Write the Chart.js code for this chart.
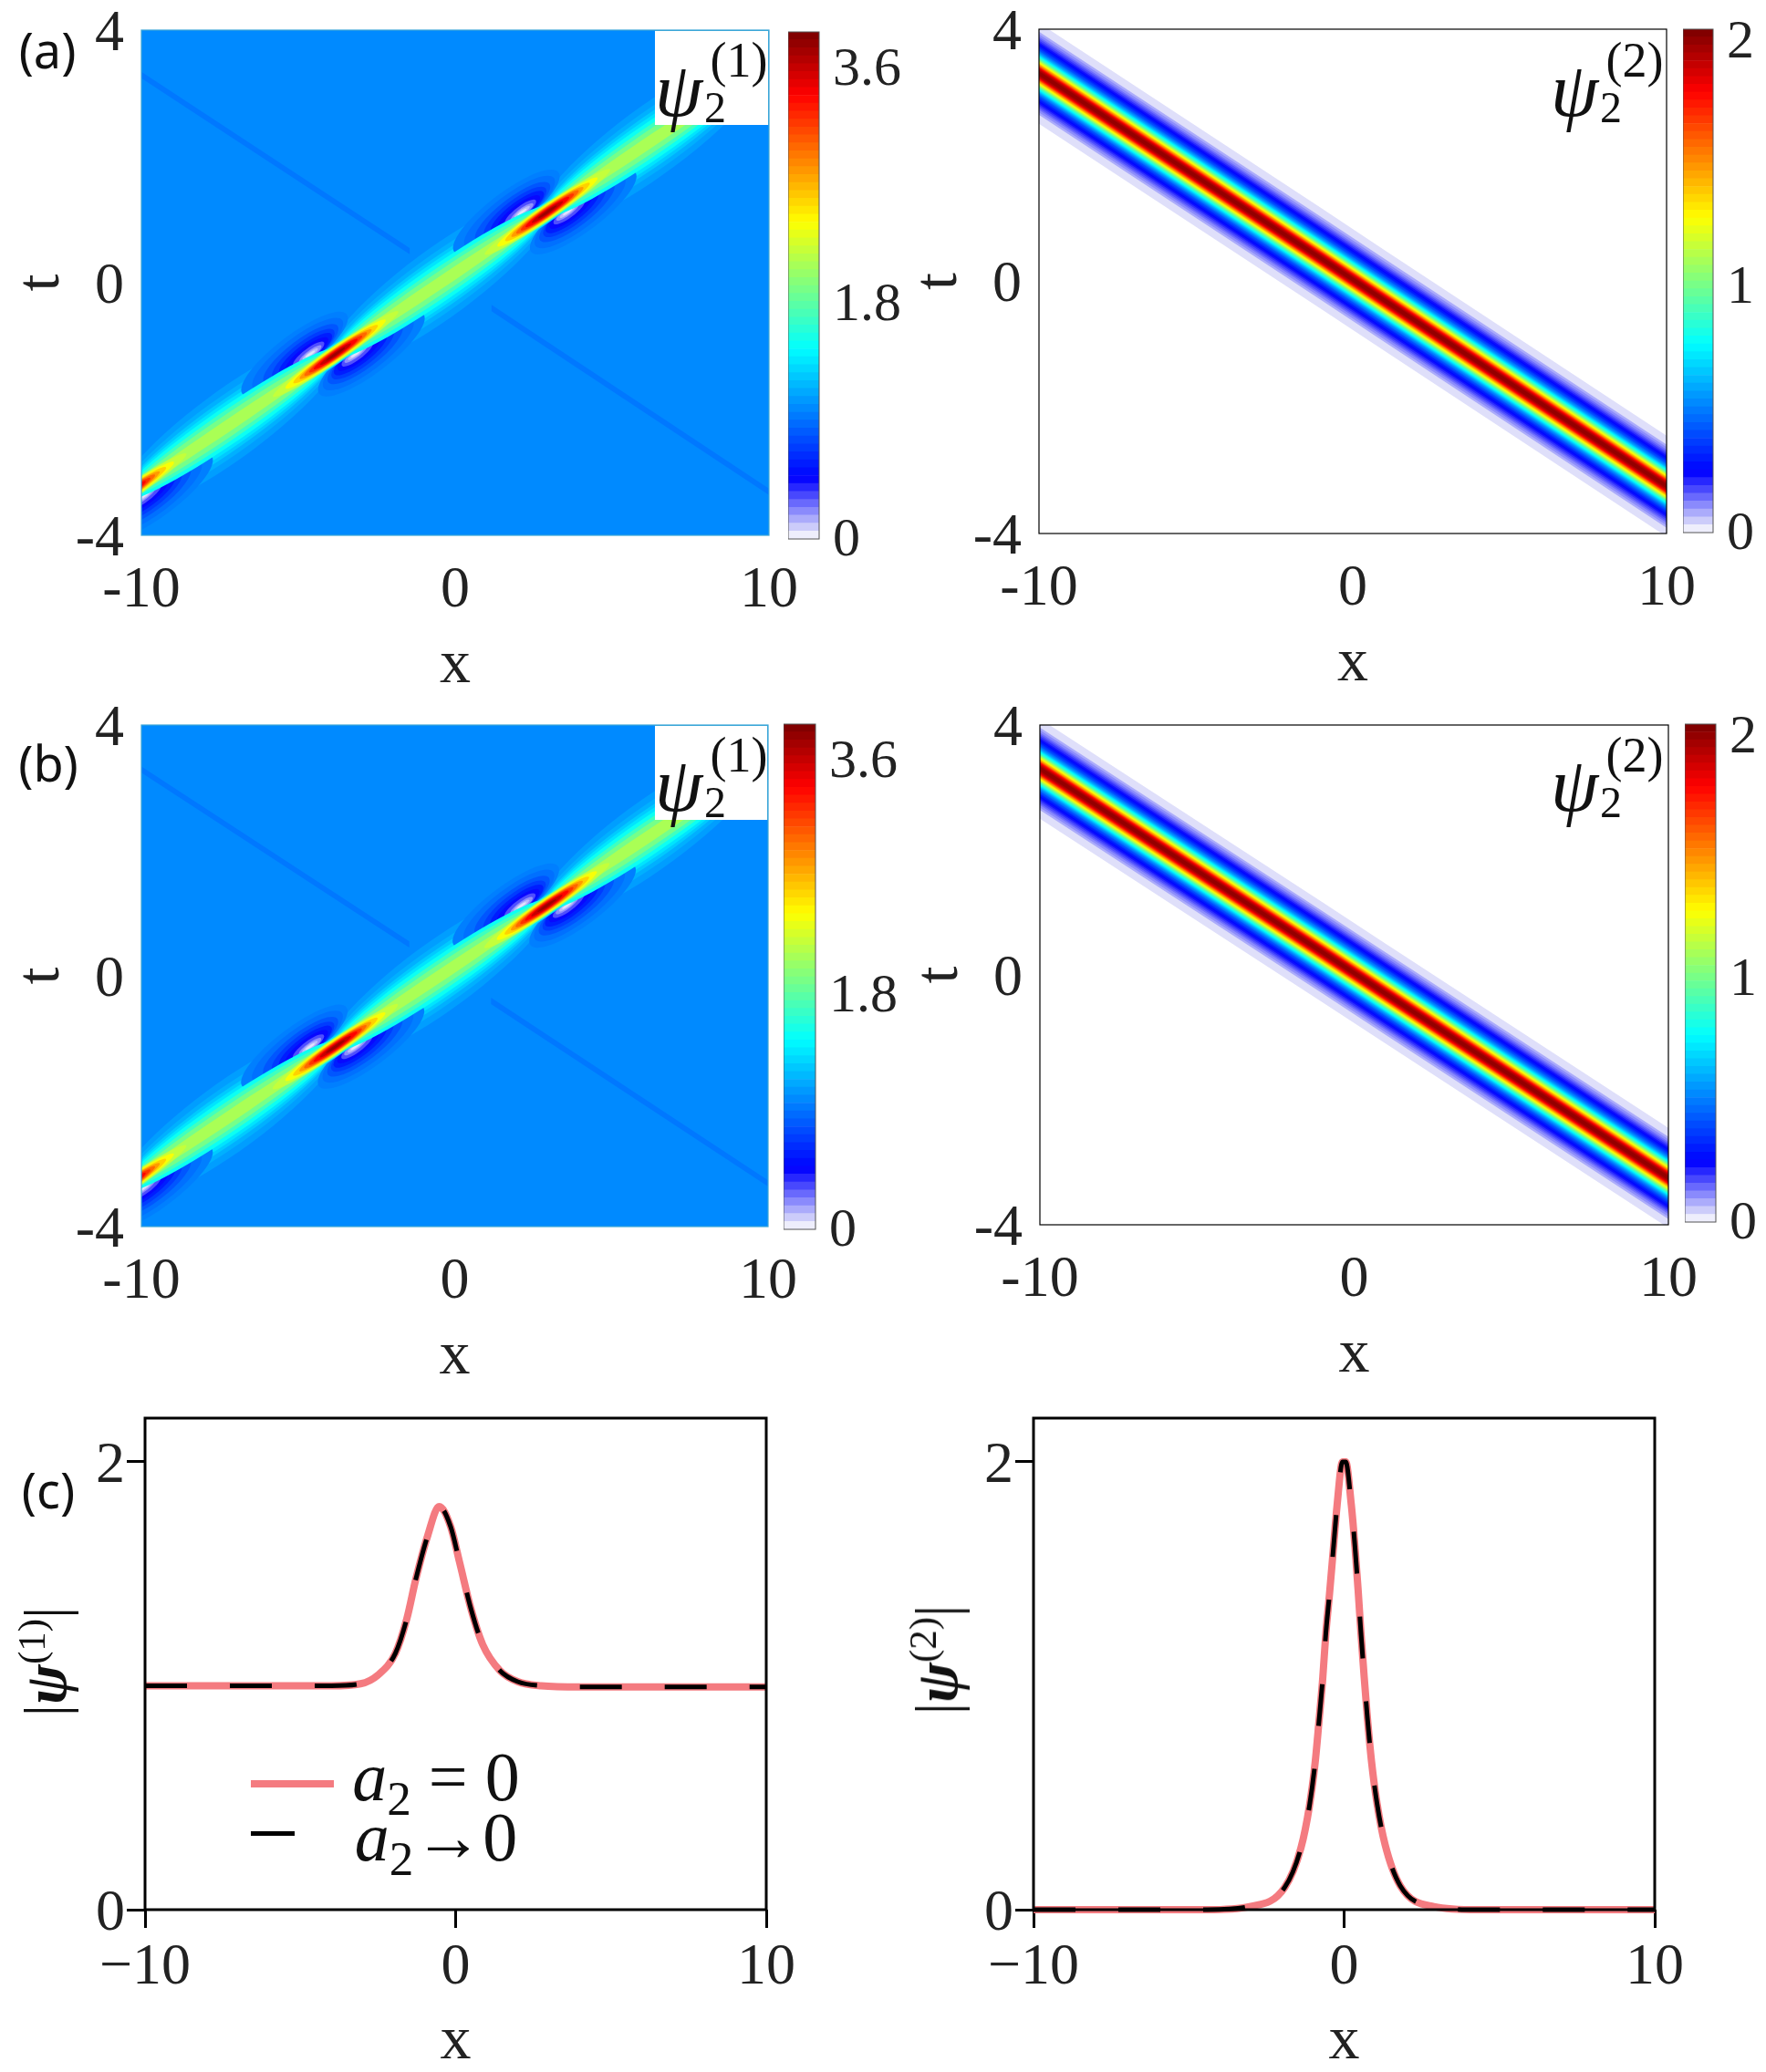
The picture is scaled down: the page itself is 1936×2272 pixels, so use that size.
<!DOCTYPE html>
<html>
<head>
<meta charset="utf-8">
<title>psi2 panels</title>
<script src="https://cdn.jsdelivr.net/npm/chart.js@4/dist/chart.umd.min.js"></script>
<style>
  html, body { margin: 0; padding: 0; background: #fff; }
  #page { position: relative; width: 1936px; height: 2272px; overflow: hidden; }
  #page canvas { position: absolute; }
  .txt { position: absolute; transform: translate(-50%, -50%); white-space: nowrap; color: #111; line-height: 1; font-family: "Liberation Serif", serif; }
  .box { position: absolute; background: #fff; border: solid #3aa6d8; border-width: 1px 1px 0 0; box-sizing: border-box; }
  .swatch { position: absolute; }
</style>
</head>
<body>
<div id="page"></div>
<script>
// axis ticks
const xTicks = [-10, 0, 10];
const tTicks = [-4, 0, 4];
const psi1BarTicks = [0, 1.8, 3.6];
const psi2BarTicks = [0, 1, 2];
const cutTicks = [0, 2];

// colour bar tops and the jet-like map they use
const psi1Top = 3.88;
const psi2Top = 2.05;
const mapStops = [0, 0.014, 0.12, 0.375, 0.625, 0.875, 1];
const mapColors = [[255,255,255], [224,224,250], [0,0,255], [0,255,255], [255,255,0], [255,0,0], [122,0,0]];

// psi2: ridge centre line and contour half widths (t units)
const stripX = [-10, -1, 1, 10];
const stripT = [3.30, 0.36, -0.30, -3.25];
const stripLevels = [0.03,0.08,0.11,0.14,0.17,0.2,0.23,0.26,0.3,0.35,0.4,0.45,0.5,0.55,0.6,0.65,0.7,0.75,0.8,0.85,0.9,0.95,1,1.05,1.1,1.15,1.2,1.25,1.3,1.35,1.4,1.45,1.5,1.55,1.6,1.65,1.7,1.75,1.8,1.85,1.9,1.95,2.0];
const stripHalf = [0.80,0.66,0.62,0.58,0.55,0.52,0.49,0.46,0.44,0.41,0.39,0.365,0.35,0.33,0.315,0.30,0.29,0.275,0.265,0.255,0.245,0.23,0.22,0.213,0.205,0.195,0.186,0.177,0.167,0.158,0.151,0.142,0.134,0.125,0.117,0.111,0.105,0.097,0.09,0.08,0.07,0.055,0.035];

// psi1: background level, faint dark lines, breather peaks and dips
const psi1Background = 1.0;
const faintLevel = 0.93;
const faintHalf = 0.05;
const faintAX = [-10, -1.45];
const faintAT = [3.29, 0.5];
const faintBX = [1.16, 10];
const faintBT = [-0.4, -3.31];
const ridgeSlope = 1 / 3;
const lobeX = [-7.2, -0.47, 6.27];
const lobeT = [-2.25, 0, 2.25];
const lobeLevels = [1.08, 1.15, 1.25, 1.35, 1.5, 1.7, 1.9, 2.1];
const lobeLong = [3.7, 3.6, 3.5, 3.5, 3.5, 3.45, 3.4, 3.4];
const lobeThick = [0.66, 0.54, 0.46, 0.40, 0.34, 0.27, 0.2, 0.11];
const peakX = [-10.56, -3.81, 2.94, 9.69];
const peakT = [-3.38, -1.13, 1.12, 3.37];
const peakLevels = [1.3, 1.7, 2.0, 2.2, 2.4, 2.6, 2.8, 3.0, 3.2, 3.4, 3.6, 3.75];
const peakLong = [2.4, 2.2, 2.1, 2.0, 1.6, 1.35, 1.15, 1.0, 0.85, 0.7, 0.5, 0.3];
const peakThick = [0.18, 0.16, 0.15, 0.14, 0.125, 0.11, 0.098, 0.088, 0.075, 0.062, 0.046, 0.025];
const dipLeftOffset = -0.81;
const dipRightOffset = 0.64;
const dipLevels = [0.96, 0.9, 0.8, 0.7, 0.58, 0.45, 0.32, 0.2, 0.12, 0.05];
const dipLong = [1.7, 1.45, 1.2, 1.0, 0.85, 0.68, 0.5, 0.36, 0.25, 0.15];
const dipThick = [0.36, 0.31, 0.26, 0.22, 0.18, 0.14, 0.105, 0.07, 0.045, 0.022];
const dipShift = [0.5, 0.4, 0.3, 0.22, 0.15, 0.1, 0.05, 0, 0, 0];
const lobeUnderDips = 1.4;

// cut through the peak, panel (c)
const cutLeftX = [-10,-6,-4,-3.06,-2.5,-1.94,-1.57,-1.28,-0.9,-0.53,-0.16,0.12,0.5,0.87,1.43,2.0,2.75,4,6,10];
const cutLeftY = [1,1,1,1.009,1.048,1.145,1.30,1.477,1.67,1.8,1.71,1.555,1.34,1.184,1.067,1.018,1,0.995,0.995,0.995];
const cutRightX = [-10,-6,-4.4,-3.04,-1.91,-1.39,-1.12,-0.93,-0.81,-0.69,-0.59,-0.47,-0.35,-0.23,-0.05,0.05,0.23,0.35,0.45,0.54,0.64,0.75,0.88,1.06,1.32,1.81,2.89,4.3,6,10];
const cutRightY = [0,0,0,0.014,0.10,0.276,0.46,0.66,0.84,1.03,1.23,1.41,1.605,1.80,2.0,2.0,1.81,1.62,1.43,1.24,1.05,0.856,0.665,0.474,0.29,0.106,0.014,0,0,0];

const serif = '"Liberation Serif", serif';
const page = document.getElementById('page');

function jet(n) {
  n = Math.max(0, Math.min(1, n));
  let i = 0;
  while (i < mapStops.length - 2 && n > mapStops[i + 1]) i++;
  const f = (n - mapStops[i]) / (mapStops[i + 1] - mapStops[i]);
  const c = mapColors[i].map((v, k) => Math.round(v + (mapColors[i + 1][k] - v) * f));
  return 'rgb(' + c.join(',') + ')';
}

// fills ellipse and polygon datasets through the chart scales
const bandFill = {
  id: 'bandFill',
  beforeDatasetsDraw(chart, args, opts) {
    const { ctx, chartArea: a, scales: { x, y } } = chart;
    ctx.save();
    ctx.beginPath();
    ctx.rect(a.left, a.top, a.right - a.left, a.bottom - a.top);
    ctx.clip();
    if (opts.background) {
      ctx.fillStyle = opts.background;
      ctx.fillRect(a.left, a.top, a.right - a.left, a.bottom - a.top);
    }
    const sx = x.getPixelForValue(1) - x.getPixelForValue(0);
    const sy = y.getPixelForValue(1) - y.getPixelForValue(0);
    chart.data.datasets.forEach(ds => {
      if (!ds.band) return;
      ctx.fillStyle = ds.band;
      ctx.beginPath();
      if (ds.long) {
        const px = x.getPixelForValue(ds.data[0].x);
        const py = y.getPixelForValue(ds.data[0].y);
        ctx.save();
        ctx.transform(ds.long * sx, ds.long * ridgeSlope * sy, 0, ds.thick * sy, px, py);
        ctx.arc(0, 0, 1, 0, Math.PI * 2);
        ctx.restore();
      } else {
        ds.data.forEach((p, i) => {
          const px = x.getPixelForValue(p.x), py = y.getPixelForValue(p.y);
          if (i) ctx.lineTo(px, py); else ctx.moveTo(px, py);
        });
        ctx.closePath();
      }
      ctx.fill();
    });
    ctx.restore();
  }
};

const frame = {
  id: 'frame',
  afterDatasetsDraw(chart, args, opts) {
    const { ctx, chartArea: a } = chart;
    ctx.save();
    ctx.strokeStyle = opts.color || '#000';
    ctx.lineWidth = opts.width || 1;
    ctx.strokeRect(a.left, a.top, a.right - a.left, a.bottom - a.top);
    ctx.restore();
  }
};

function makeCanvas(left, top, width, height) {
  const c = document.createElement('canvas');
  c.width = width;
  c.height = height;
  c.style.left = left + 'px';
  c.style.top = top + 'px';
  c.style.width = width + 'px';
  c.style.height = height + 'px';
  page.appendChild(c);
  return c;
}

function fixedTicks(values) {
  return s => { s.ticks = values.map(v => ({ value: v })); };
}

// pins a scale box so the plot area lands where it should
function pinSize(prop, size) {
  return s => {
    s[prop] = size;
    s.paddingTop = s.paddingBottom = s.paddingLeft = s.paddingRight = 0;
  };
}

function ellipse(v, top, cx, ct, long, thick) {
  return { data: [{ x: cx, y: ct }], band: jet(v / top), long, thick, showLine: false, pointRadius: 0 };
}

function polygon(v, top, pts) {
  return { data: pts, band: jet(v / top), showLine: false, pointRadius: 0 };
}

function psi1Bands() {
  const out = [];
  const faint = (xs, ts) => out.push(polygon(faintLevel, psi1Top, [
    { x: xs[0], y: ts[0] + faintHalf }, { x: xs[1], y: ts[1] + faintHalf },
    { x: xs[1], y: ts[1] - faintHalf }, { x: xs[0], y: ts[0] - faintHalf }
  ]));
  faint(faintAX, faintAT);
  faint(faintBX, faintBT);
  const lobeRow = k => lobeX.forEach((cx, i) => out.push(ellipse(lobeLevels[k], psi1Top, cx, lobeT[i], lobeLong[k], lobeThick[k])));
  // outer lobe contours sit under the dips, the dips pinch them
  lobeLevels.forEach((v, k) => { if (v < lobeUnderDips) lobeRow(k); });
  dipLevels.forEach((v, k) => {
    peakX.forEach((px, i) => {
      out.push(ellipse(v, psi1Top, px + dipLeftOffset - dipShift[k], peakT[i], dipLong[k], dipThick[k]));
      out.push(ellipse(v, psi1Top, px + dipRightOffset + dipShift[k], peakT[i], dipLong[k], dipThick[k]));
    });
  });
  // ridge contours, lowest first
  const rows = [];
  lobeLevels.forEach((v, k) => { if (v >= lobeUnderDips) rows.push({ v, xs: lobeX, ts: lobeT, long: lobeLong[k], thick: lobeThick[k] }); });
  peakLevels.forEach((v, k) => rows.push({ v, xs: peakX, ts: peakT, long: peakLong[k], thick: peakThick[k] }));
  rows.sort((p, q) => p.v - q.v);
  rows.forEach(r => r.xs.forEach((cx, i) => out.push(ellipse(r.v, psi1Top, cx, r.ts[i], r.long, r.thick))));
  return out;
}

function psi2Bands() {
  return stripLevels.map((v, k) => {
    const up = stripX.map((x, i) => ({ x, y: stripT[i] + stripHalf[k] }));
    const down = stripX.map((x, i) => ({ x, y: stripT[i] - stripHalf[k] })).reverse();
    return polygon(v, psi2Top, up.concat(down));
  });
}

function plotOptions(ml, mb, yTickList, yMax, extra) {
  const mr = 50, mt = 30;
  return {
    responsive: false,
    animation: false,
    devicePixelRatio: 1,
    layout: { padding: { top: mt, right: mr, left: 0, bottom: 0 } },
    plugins: Object.assign({ legend: { display: false }, tooltip: { enabled: false } }, extra.plugins),
    scales: {
      x: {
        type: 'linear', min: -10, max: 10,
        afterBuildTicks: fixedTicks(xTicks),
        afterFit: pinSize('height', mb),
        grid: extra.grid,
        border: { display: false },
        ticks: { autoSkip: false, maxRotation: 0, padding: extra.xPad, color: '#222', font: { family: serif, size: 64 }, callback: extra.xLabel },
        title: { display: true, text: 'x', color: '#222', padding: { top: 0, bottom: extra.xTitlePad }, font: { family: serif, size: 68 } }
      },
      y: {
        type: 'linear', min: extra.yMin, max: yMax,
        afterBuildTicks: fixedTicks(yTickList),
        afterFit: pinSize('width', ml),
        grid: extra.grid,
        border: { display: false },
        ticks: { autoSkip: false, padding: extra.yPad, labelOffset: 5, color: '#222', font: { family: serif, size: 64 }, callback: v => String(v) },
        title: { display: !!extra.yTitle, text: extra.yTitle, color: '#222', padding: { top: 0, bottom: extra.yTitlePad }, font: { family: serif, size: 68 } }
      }
    }
  };
}

function heatPanel(box, bands, background, frameColor) {
  const ml = 150, mb = 188, mr = 50, mt = 30;
  const c = makeCanvas(box.l - ml, box.t - mt, box.r - box.l + ml + mr, box.b - box.t + mt + mb);
  const options = plotOptions(ml, mb, tTicks, 4, {
    yMin: -4,
    grid: { display: false },
    xPad: 15, yPad: 11, xTitlePad: 4, yTitlePad: 0,
    yTitle: 't',
    xLabel: v => String(v),
    plugins: { bandFill: { background }, frame: { color: frameColor, width: 1.2 } }
  });
  new Chart(c, { type: 'scatter', data: { datasets: bands }, options, plugins: [bandFill, frame] });
}

function colorBar(box, top, tickList) {
  const mr = 100, mt = 30, mb = 40;
  const c = makeCanvas(box.l, box.t - mt, box.r - box.l + mr, box.b - box.t + mt + mb);
  const steps = 64;
  const datasets = [];
  for (let i = 0; i < steps; i++) {
    datasets.push({ data: [top / steps], backgroundColor: jet((i + 0.5) / steps), borderWidth: 0, barPercentage: 1, categoryPercentage: 1 });
  }
  new Chart(c, {
    type: 'bar',
    data: { labels: [''], datasets },
    options: {
      responsive: false, animation: false, devicePixelRatio: 1,
      layout: { padding: { top: mt, bottom: mb } },
      plugins: { legend: { display: false }, tooltip: { enabled: false }, frame: { color: '#555', width: 1 } },
      scales: {
        x: { stacked: true, display: false },
        y: {
          stacked: true, position: 'right', min: 0, max: top,
          afterBuildTicks: fixedTicks(tickList),
          afterFit: pinSize('width', mr),
          grid: { display: false }, border: { display: false },
          ticks: { autoSkip: false, padding: 7, labelOffset: 2, color: '#222', font: { family: serif, size: 60 }, callback: v => String(v) }
        }
      }
    },
    plugins: [frame]
  });
}

function cutPanel(box, xs, ys) {
  const ml = 150, mb = 188, mr = 50, mt = 30;
  const c = makeCanvas(box.l - ml, box.t - mt, box.r - box.l + ml + mr, box.b - box.t + mt + mb);
  const pts = xs.map((x, i) => ({ x, y: ys[i] }));
  const options = plotOptions(ml, mb, cutTicks, 2.195, {
    yMin: 0,
    grid: { display: true, drawOnChartArea: false, tickLength: 20, tickWidth: 3, tickColor: '#000' },
    xPad: 6, yPad: 2, xTitlePad: 2, yTitlePad: 4,
    yTitle: '',
    xLabel: v => String(v).replace('-', '\u2212'),
    plugins: { frame: { color: '#000', width: 3 } }
  });
  new Chart(c, {
    type: 'scatter',
    data: {
      datasets: [
        { label: 'a2 -> 0', data: pts, showLine: true, pointRadius: 0, order: 0, clip: 8, borderColor: '#000', borderWidth: 5, borderDash: [46, 47], cubicInterpolationMode: 'monotone' },
        { label: 'a2 = 0', data: pts, showLine: true, pointRadius: 0, order: 1, clip: 8, borderColor: '#f47b80', borderWidth: 8, cubicInterpolationMode: 'monotone' }
      ]
    },
    options,
    plugins: [frame]
  });
}

function txt(html, x, y, size, family, style) {
  const d = document.createElement('div');
  d.className = 'txt';
  d.innerHTML = html;
  d.style.left = x + 'px';
  d.style.top = y + 'px';
  d.style.fontSize = size + 'px';
  if (family) d.style.fontFamily = family;
  if (style) d.style.fontStyle = style;
  page.appendChild(d);
  return d;
}

function psiLabel(ax, ay, comp, boxed) {
  if (boxed) {
    const b = document.createElement('div');
    b.className = 'box';
    b.style.left = ax + 'px';
    b.style.top = ay + 'px';
    b.style.width = boxed[0] + 'px';
    b.style.height = boxed[1] + 'px';
    page.appendChild(b);
  }
  txt('\u03c8', ax + 26, ay + 66, 84, null, 'italic');
  txt('2', ax + 66, ay + 85, 48);
  txt('(' + comp + ')', ax + 92, ay + 33, 54);
}

function cutTitle(comp, x, y) {
  const d = txt('|<b><i>\u03c8</i></b><sup style="font-size:.65em;line-height:0">(' + comp + ')</sup>|', x, y, 66);
  d.style.transform = 'translate(-50%, -50%) rotate(-90deg)';
}

function swatch(x, y, w, h, color) {
  const d = document.createElement('div');
  d.className = 'swatch';
  d.style.cssText += 'left:' + x + 'px;top:' + y + 'px;width:' + w + 'px;height:' + h + 'px;background:' + color;
  page.appendChild(d);
}

// panels (a) and (b)
heatPanel({ l: 155, r: 843, t: 33, b: 587 }, psi1Bands(), jet(psi1Background / psi1Top), '#3aa6d8');
colorBar({ l: 864, r: 898, t: 35, b: 591 }, psi1Top, psi1BarTicks);
heatPanel({ l: 1139, r: 1827, t: 32, b: 585 }, psi2Bands(), null, '#000');
colorBar({ l: 1845, r: 1878, t: 32, b: 584 }, psi2Top, psi2BarTicks);
heatPanel({ l: 155, r: 842, t: 795, b: 1345 }, psi1Bands(), jet(psi1Background / psi1Top), '#3aa6d8');
colorBar({ l: 859, r: 894, t: 794, b: 1348 }, psi1Top, psi1BarTicks);
heatPanel({ l: 1140, r: 1829, t: 795, b: 1343 }, psi2Bands(), null, '#000');
colorBar({ l: 1847, r: 1881, t: 794, b: 1340 }, psi2Top, psi2BarTicks);

// panel (c)
cutPanel({ l: 159, r: 840, t: 1555, b: 2094 }, cutLeftX, cutLeftY);
cutPanel({ l: 1133, r: 1814, t: 1555, b: 2094 }, cutRightX, cutRightY);
cutTitle('1', 50, 1822);
cutTitle('2', 1027, 1820);

// overlays
psiLabel(718, 33, '1', [125, 104]);
psiLabel(1700, 33, '2');
psiLabel(718, 795, '1', [124, 104]);
psiLabel(1700, 795, '2');

const sans = '"Noto Sans", sans-serif';
txt('(a)', 52, 54, 54, sans);
txt('(b)', 53, 836, 54, sans);
txt('(c)', 53, 1633, 54, sans);

swatch(275, 1952, 91, 8, '#f47b80');
swatch(275, 2008, 48, 5, '#000');
txt('<i>a</i><sub style="font-size:.7em;line-height:0">2</sub> = 0', 478, 1948, 76);
txt('<i>a</i><sub style="font-size:.7em;line-height:0">2</sub>\u21920', 478, 2014, 76);
</script>
</body>
</html>
